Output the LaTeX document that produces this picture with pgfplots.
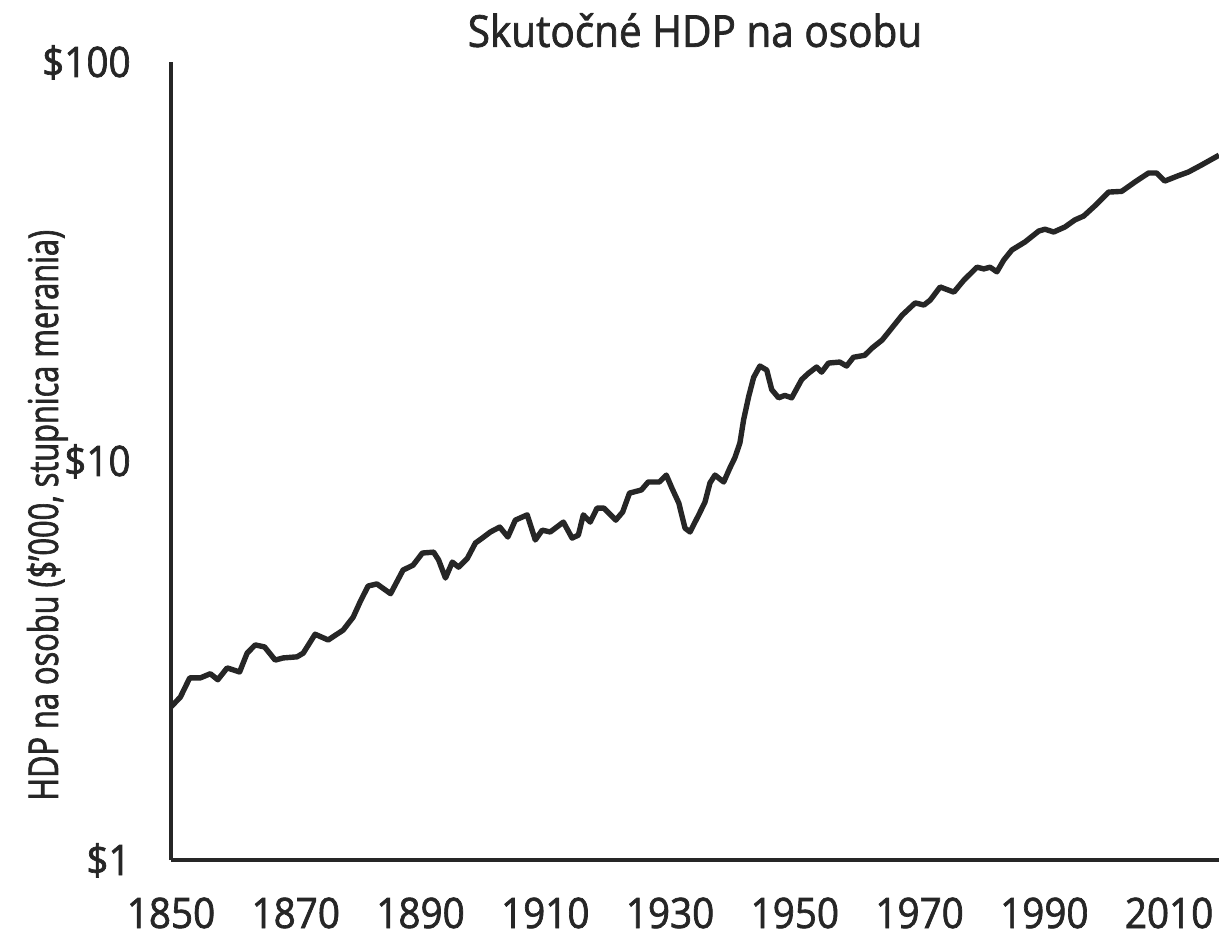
\documentclass[border=0pt]{standalone}
\usepackage{pgfplots}
\pgfplotsset{compat=1.18}
\usepackage{fontspec}
\setmainfont{Open Sans}[FakeStretch=0.92, FakeBold=1.6]
\newfontfamily\labfont{Open Sans}[FakeStretch=0.75, FakeBold=1.6]
\definecolor{ink}{HTML}{262626}
\begin{document}
\begin{tikzpicture}
\useasboundingbox (-85.5bp,-37.5bp) rectangle (524bp,430bp);
\begin{axis}[
  scale only axis,
  width=524bp, height=399bp,
  xmin=1850, xmax=2018,
  ymode=log, log basis y=10,
  ymin=1, ymax=100,
  axis x line=bottom, axis y line=left,
  axis line style={-, draw=ink, line width=2.3bp},
  major tick length=0pt,
  xtick={1850,1870,1890,1910,1930,1950,1970,1990,2010},
  xticklabels={1850,1870,1890,1910,1930,1950,1970,1990,2010},
  ytick={1,10,100},
  yticklabels={\$1,\$10,\$100},
  minor ytick={},
  font=\fontsize{21bp}{25bp}\selectfont,
  tick label style={text=ink, inner sep=0pt, font=\fontsize{21bp}{25bp}\selectfont},
  xticklabel style={anchor=base, yshift=-34bp},
  yticklabel style={anchor=base east, xshift=-20bp, yshift=-7.5bp},
  ylabel={HDP na osobu (\$’000, stupnica merania)},
  ylabel style={at={(axis description cs:-0.118,0.432)}, anchor=center, text=ink, inner sep=0pt, font=\labfont\fontsize{20.5bp}{24bp}\selectfont},
  title={Skutočné HDP na osobu},
  title style={at={(axis description cs:0.5,1.004)}, anchor=base, text=ink, inner sep=0pt, font=\fontsize{22bp}{26bp}\selectfont},
  clip=true,
]
\addplot[ink, line width=2.7bp, line join=round] coordinates {
(1850,2.42) (1851.5,2.56) (1853,2.86) (1854.7,2.86) (1856.3,2.93) (1857.5,2.83)
(1859,3.03) (1861,2.96) (1862.2,3.30) (1863.5,3.46) (1865,3.42) (1866.7,3.17)
(1868,3.21) (1870.2,3.23) (1871.2,3.30) (1873.1,3.68) (1875.2,3.56) (1877.6,3.77)
(1879.2,4.06) (1880.3,4.43) (1881.6,4.86) (1883,4.92) (1885.2,4.65) (1887.2,5.33)
(1888.8,5.48) (1890.3,5.88) (1892.1,5.91) (1892.9,5.65) (1894.0,5.09) (1895.1,5.58)
(1896.1,5.42) (1897.5,5.70) (1898.8,6.23) (1899.9,6.41) (1901.2,6.64) (1902.7,6.83)
(1904,6.45) (1905.2,7.11) (1907.1,7.33) (1908.4,6.34) (1909.5,6.71) (1910.8,6.64)
(1912.9,7.03) (1914.3,6.41) (1915.3,6.52) (1916.1,7.33) (1917.2,7.03) (1918.3,7.62)
(1919.4,7.62) (1921.3,7.11) (1922.4,7.45) (1923.5,8.31) (1925.4,8.46) (1926.5,8.86)
(1928.3,8.86) (1929.4,9.22) (1930.3,8.55) (1931.4,7.85) (1932.4,6.79) (1933.2,6.64)
(1934.6,7.33) (1935.6,7.89) (1936.4,8.81) (1937.2,9.22) (1938.6,8.86) (1939.6,9.61)
(1940.4,10.2) (1941.2,11.1) (1941.8,12.7) (1942.6,14.5) (1943.4,16.2) (1944.4,17.3)
(1945.5,16.9) (1946.3,15.1) (1947.4,14.4) (1948.4,14.6) (1949.5,14.4) (1951.1,16.0)
(1952.2,16.6) (1953.5,17.2) (1954.3,16.7) (1955.4,17.6) (1957.2,17.7) (1958.3,17.3)
(1959.4,18.2) (1961.2,18.4) (1962.4,19.2) (1964,20.1) (1965.3,21.3) (1967.2,23.2)
(1969.3,24.9) (1970.7,24.6) (1971.7,25.3) (1973.3,27.3) (1975.5,26.5) (1977.1,28.4)
(1979.2,30.6) (1980.3,30.3) (1981.3,30.6) (1982.4,29.8) (1983.5,31.9) (1984.8,33.8)
(1986.9,35.4) (1989.1,37.7) (1990.1,38.1) (1991.5,37.5) (1993.3,38.6) (1994.9,40.2)
(1996.3,41.1) (1998.1,43.6) (2000.3,47.2) (2002.4,47.4) (2004.5,50.0) (2006.7,52.7)
(2008,52.7) (2009.3,50.3) (2011.5,51.9) (2013.1,53.0) (2015.2,55.2) (2018,58.4)
};
\end{axis}
\end{tikzpicture}
\end{document}
